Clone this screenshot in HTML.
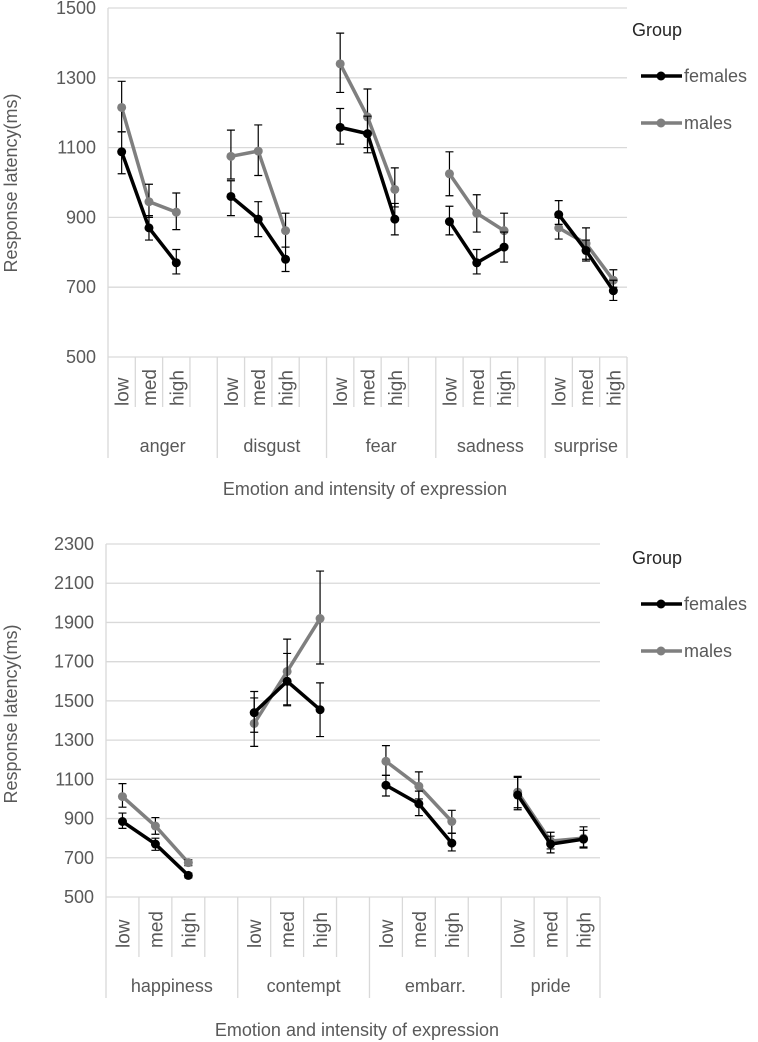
<!DOCTYPE html>
<html><head><meta charset="utf-8">
<style>
html,body{margin:0;padding:0;background:#fff;}
svg{display:block;font-family:"Liberation Sans",sans-serif;}
text{fill:#595959;}
</style></head>
<body>
<svg id="chart" width="758" height="1042" viewBox="0 0 758 1042" xmlns="http://www.w3.org/2000/svg"></svg>
<script>
// ---- Top chart data ----
const topGroups = ["anger","disgust","fear","sadness","surprise"];
const levels = ["low","med","high"];
const topTicks = [500,700,900,1100,1300,1500];
const topFemales = [1088,870,770, 960,895,780, 1158,1140,895, 888,770,815, 908,805,690];
const topFemalesLo = [1025,835,738, 905,845,745, 1110,1085,850, 850,738,772, 880,775,662];
const topFemalesHi = [1145,905,808, 1005,945,815, 1212,1190,940, 932,808,858, 948,835,720];
const topMales = [1215,945,915, 1075,1090,862, 1340,1188,980, 1025,912,862, 870,825,720];
const topMalesLo = [1145,900,865, 1010,1020,815, 1258,1100,930, 962,858,815, 838,780,700];
const topMalesHi = [1290,995,970, 1150,1165,912, 1428,1268,1042, 1088,965,912, 900,870,750];
// ---- Bottom chart data ----
const botGroups = ["happiness","contempt","embarr.","pride"];
const botTicks = [500,700,900,1100,1300,1500,1700,1900,2100,2300];
const botFemales = [885,770,610, 1440,1600,1455, 1070,975,775, 1020,770,795];
const botFemalesLo = [850,738,598, 1340,1475,1318, 1015,915,735, 945,725,750];
const botFemalesHi = [928,800,622, 1515,1742,1592, 1120,1040,825, 1110,810,840];
const botMales = [1012,862,675, 1385,1650,1920, 1192,1065,885, 1035,785,800];
const botMalesLo = [958,820,660, 1268,1480,1688, 1120,1000,825, 955,745,755];
const botMalesHi = [1078,905,690, 1548,1815,2162, 1272,1138,942, 1115,830,858];

const NS="http://www.w3.org/2000/svg";
const svg=document.getElementById('chart');
function mk(tag,attrs,parent,txt){const e=document.createElementNS(NS,tag);for(const k in attrs)e.setAttribute(k,attrs[k]);if(txt!==undefined)e.textContent=txt;(parent||svg).appendChild(e);return e;}

function drawChart(cfg){
  const g=mk('g',{});
  
  
  const nG=cfg.groups.length, nSlots=nG*4-1;
  const slotW=(cfg.x1-cfg.x0)/nSlots;
  const y=v=>cfg.yBot-(v-cfg.min)/(cfg.max-cfg.min)*(cfg.yBot-cfg.yTop);
  const x=i=>cfg.x0+(Math.floor(i/3)*4+(i%3)+0.5)*slotW;
  cfg.ticks.forEach(t=>{
    const ln=mk('line',{x1:cfg.x0,x2:cfg.x1,y1:y(t),y2:y(t),stroke:'#d9d9d9','stroke-width':1.3},g);
    
    
    const tx=mk('text',{x:cfg.x0-12,y:y(t)+6,'text-anchor':'end','font-size':18},g,t);
    
    
  });
  mk('line',{x1:cfg.x0,x2:cfg.x0,y1:cfg.yTop,y2:cfg.yBot,stroke:'#d9d9d9','stroke-width':1.3},g);
  for(let s=0;s<=nSlots;s++){
    const isGroup=(s%4===0)||s===nSlots;
    const xx=cfg.x0+s*slotW;
    mk('line',{x1:xx,x2:xx,y1:cfg.yBot,y2:isGroup?cfg.grpBot:cfg.tickBot,stroke:'#d9d9d9','stroke-width':1.3},g);
  }
  for(let i=0;i<nG*3;i++){
    const tx=mk('text',{x:0,y:0,'font-size':19,transform:`translate(${x(i)+7},${cfg.lvlY}) rotate(-90)`},g,levels[i%3]);
    
    
  }
  cfg.groups.forEach((name,gi)=>{
    const w=(gi===nG-1)?3:4;
    const cx=cfg.x0+(gi*4+w/2)*slotW;
    const tx=mk('text',{x:cx,y:cfg.grpY,'text-anchor':'middle','font-size':18},g,name);
    
    
  });
  const xt=mk('text',{x:cfg.xTitleX,y:cfg.xTitleY,'text-anchor':'middle','font-size':18},g,'Emotion  and intensity of expression');
  
  
  const yt=mk('text',{x:0,y:0,'text-anchor':'middle','font-size':18,transform:`translate(17,${cfg.yTitleY}) rotate(-90)`},g,'Response latency(ms)');
  
  
  const series=[
    {name:'males',v:cfg.m,lo:cfg.mLo,hi:cfg.mHi,c:'#7f7f7f'},
    {name:'females',v:cfg.f,lo:cfg.fLo,hi:cfg.fHi,c:'#000000'}
  ];
  series.forEach(s=>{
    const sg=mk('g',{},g);
    
    
    for(let gi=0;gi<nG;gi++){
      const pts=[0,1,2].map(k=>{const i=gi*3+k;return x(i)+','+y(s.v[i]);}).join(' ');
      const pl=mk('polyline',{points:pts,fill:'none',stroke:s.c,'stroke-width':3.5},sg);
      
      
    }
    s.v.forEach((v,i)=>{
      const xx=x(i);
      const eb=mk('path',{d:`M${xx-4},${y(s.hi[i])}H${xx+4}M${xx},${y(s.hi[i])}V${y(s.lo[i])}M${xx-4},${y(s.lo[i])}H${xx+4}`,stroke:'#000','stroke-width':1.2,fill:'none'},sg);
      
      
      const pt=mk('circle',{cx:xx,cy:y(v),r:4.5,fill:s.c},sg);
      
      
    });
  });
  const lg=mk('g',{},g);
  
  
  const gt=mk('text',{x:632,y:cfg.legY,'font-size':18,style:'fill:#262626'},lg,'Group');
  
  
  [['females','#000',cfg.legY+40],['males','#7f7f7f',cfg.legY+87]].forEach(([n,c,yy])=>{
    const e=mk('g',{},lg);
    
    
    mk('line',{x1:641,x2:682,y1:yy,y2:yy,stroke:c,'stroke-width':3.5},e);
    mk('circle',{cx:661,cy:yy,r:4.5,fill:c},e);
    mk('text',{x:684,y:yy+6,'font-size':18},e,n);
  });
}

drawChart({name:'top-chart',groups:topGroups,ticks:topTicks,min:500,max:1500,yTop:8,yBot:357,x0:108,x1:627,
  tickBot:407,grpBot:458,lvlY:406,grpY:452,xTitleX:365,xTitleY:495,yTitleY:183,legY:36,
  f:topFemales,fLo:topFemalesLo,fHi:topFemalesHi,m:topMales,mLo:topMalesLo,mHi:topMalesHi});
drawChart({name:'bottom-chart',groups:botGroups,ticks:botTicks,min:500,max:2300,yTop:544,yBot:897,x0:106,x1:600,
  tickBot:957,grpBot:998,lvlY:948,grpY:992,xTitleX:357,xTitleY:1036,yTitleY:714,legY:564,
  f:botFemales,fLo:botFemalesLo,fHi:botFemalesHi,m:botMales,mLo:botMalesLo,mHi:botMalesHi});
</script>
</body></html>
